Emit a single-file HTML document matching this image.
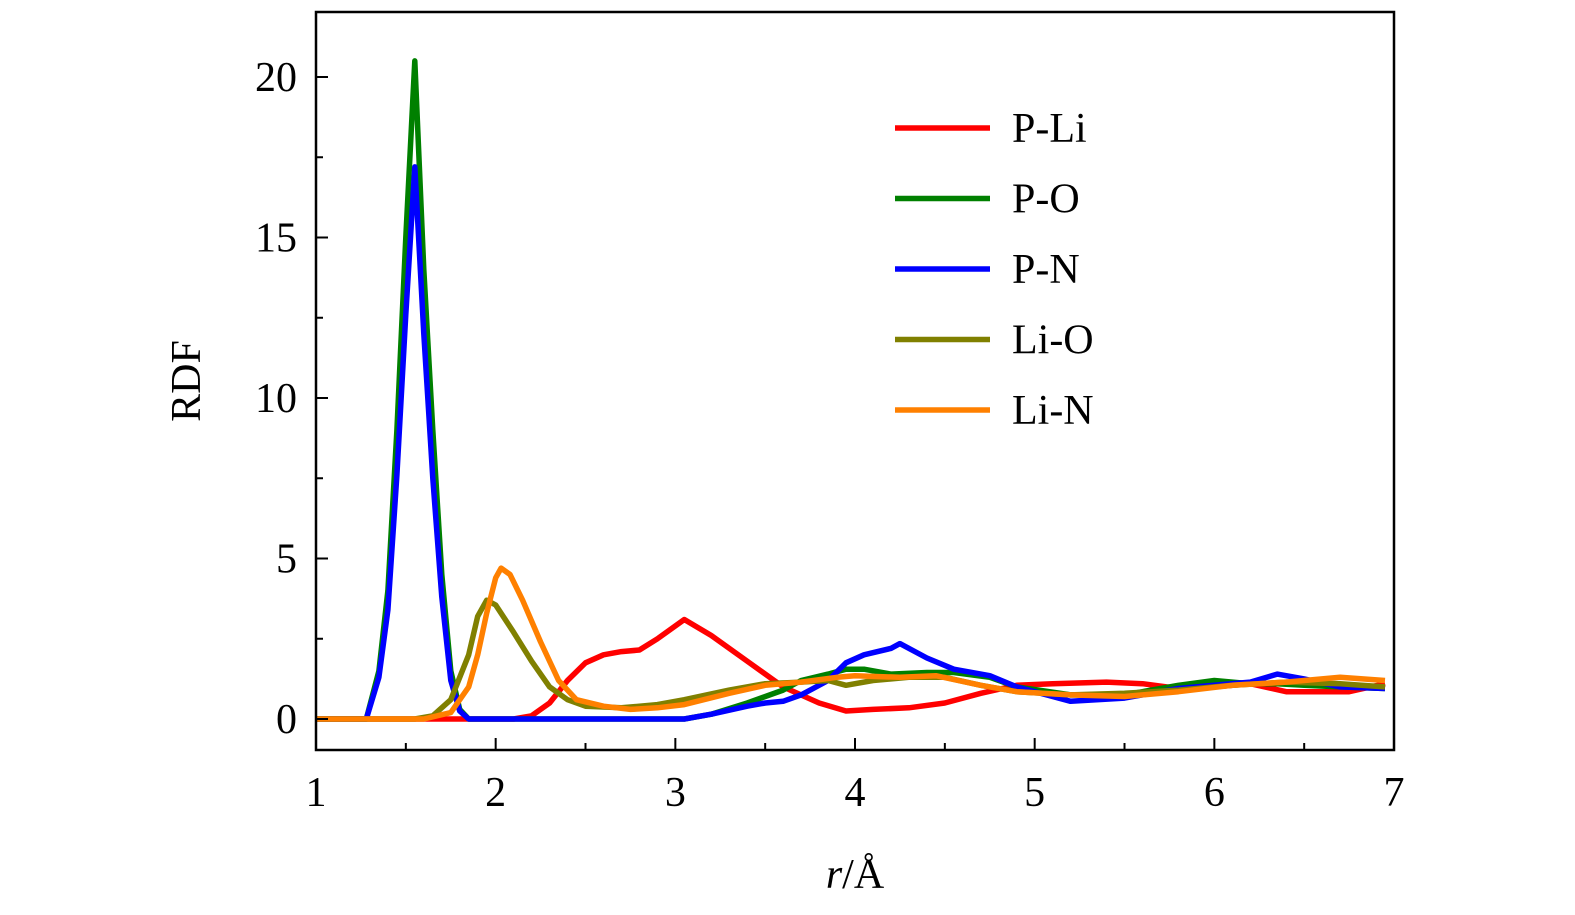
<!DOCTYPE html>
<html><head><meta charset="utf-8"><style>
html,body{margin:0;padding:0;background:#fff;overflow:hidden;width:1575px;height:915px;}
svg{display:block;}
svg text{font-family:"Liberation Serif",serif;fill:#000;}
</style></head><body>
<svg width="1575" height="915" viewBox="0 0 1575 915">
<g id="plot"></g>
<rect x="316" y="12" width="1078" height="738" fill="none" stroke="#000" stroke-width="2.5"/>
<g id="ticks"></g>
<text x="200" y="381" font-size="42" text-anchor="middle" transform="rotate(-90 200 381)">RDF</text>
<text x="855" y="888" font-size="42" text-anchor="middle"><tspan font-style="italic">r</tspan>/Å</text>
<g id="legend"></g>
</svg>
<script>
const xTicks=[1,2,3,4,5,6,7];
const yTicks=[0,5,10,15,20];
const seriesNames=["P-Li","P-O","P-N","Li-O","Li-N"];
const seriesColors=["#ff0000","#008000","#0000ff","#808000","#ff8000"];
const pLiR=[1,2.1,2.2,2.3,2.4,2.5,2.6,2.7,2.8,2.9,3.05,3.2,3.4,3.6,3.8,3.95,4.1,4.3,4.5,4.7,4.9,5.1,5.4,5.6,5.8,6.0,6.2,6.4,6.6,6.75,6.95];
const pLiV=[0,0,0.1,0.5,1.2,1.75,2.0,2.1,2.15,2.5,3.1,2.6,1.8,1.0,0.5,0.25,0.3,0.35,0.5,0.8,1.05,1.1,1.15,1.1,0.95,1.0,1.1,0.85,0.85,0.85,1.1];
const pOR=[1,1.28,1.35,1.4,1.45,1.5,1.55,1.6,1.65,1.7,1.75,1.8,1.85,3.05,3.2,3.4,3.6,3.7,3.85,3.95,4.05,4.2,4.4,4.55,4.75,4.9,5.2,5.5,5.8,6.0,6.2,6.35,6.5,6.7,6.95];
const pOV=[0,0,1.5,4,9,15,20.5,14,9,4.5,1.5,0.3,0,0,0.15,0.5,0.9,1.2,1.4,1.55,1.55,1.4,1.45,1.45,1.3,1.0,0.75,0.75,1.05,1.2,1.1,1.1,1.05,1.0,0.95];
const pNR=[1,1.28,1.35,1.4,1.45,1.5,1.55,1.6,1.65,1.7,1.75,1.8,1.85,3.05,3.2,3.4,3.5,3.6,3.7,3.85,3.95,4.05,4.2,4.25,4.4,4.55,4.75,4.9,5.2,5.5,5.8,6.0,6.2,6.35,6.5,6.7,6.95];
const pNV=[0,0,1.3,3.4,7.6,12.6,17.2,12,7.5,3.8,1.2,0.25,0,0,0.15,0.4,0.5,0.55,0.75,1.2,1.75,2.0,2.2,2.35,1.9,1.55,1.35,1.0,0.55,0.65,0.95,1.05,1.15,1.4,1.25,1.0,0.95];
const liOR=[1,1.55,1.65,1.75,1.85,1.9,1.95,2.0,2.1,2.2,2.3,2.4,2.5,2.7,2.9,3.05,3.3,3.5,3.7,3.85,3.95,4.1,4.3,4.5,4.7,4.9,5.2,5.5,5.8,6.1,6.4,6.7,6.95];
const liOV=[0,0,0.1,0.6,2.0,3.2,3.7,3.55,2.7,1.8,1.0,0.6,0.4,0.35,0.45,0.6,0.9,1.1,1.15,1.2,1.05,1.2,1.3,1.3,1.05,0.85,0.75,0.8,0.9,1.05,1.15,1.1,1.0];
const liNR=[1,1.6,1.75,1.85,1.9,1.95,2.0,2.03,2.08,2.15,2.25,2.35,2.45,2.6,2.75,2.9,3.05,3.3,3.5,3.7,3.9,4.0,4.25,4.45,4.7,4.9,5.2,5.5,5.8,6.1,6.4,6.7,6.95];
const liNV=[0,0,0.2,1.0,2.0,3.3,4.4,4.7,4.5,3.7,2.4,1.2,0.6,0.4,0.3,0.35,0.45,0.8,1.05,1.15,1.3,1.35,1.3,1.35,1.05,0.85,0.75,0.7,0.85,1.05,1.15,1.3,1.2];
const seriesR=[pLiR,pOR,pNR,liOR,liNR];
const seriesV=[pLiV,pOV,pNV,liOV,liNV];
const NS="http://www.w3.org/2000/svg";
const sx=r=>316+(r-1)*179.67;
const sy=v=>719-v*32.1;
const plot=document.getElementById('plot');
[0,1,2,3,4].forEach(i=>{
  const p=document.createElementNS(NS,'polyline');
  p.setAttribute('points',seriesR[i].map((r,k)=>sx(r).toFixed(1)+','+sy(seriesV[i][k]).toFixed(1)).join(' '));
  p.setAttribute('fill','none');p.setAttribute('stroke',seriesColors[i]);
  p.setAttribute('stroke-width','5.5');p.setAttribute('stroke-linejoin','round');
  
  
  plot.appendChild(p);
});
const tk=document.getElementById('ticks');
function line(x1,y1,x2,y2){const l=document.createElementNS(NS,'line');l.setAttribute('x1',x1);l.setAttribute('y1',y1);l.setAttribute('x2',x2);l.setAttribute('y2',y2);l.setAttribute('stroke','#000');l.setAttribute('stroke-width','2');


tk.appendChild(l);}
xTicks.forEach(t=>{
  line(sx(t),750,sx(t),738);
  if(t<7) line(sx(t+0.5),750,sx(t+0.5),743);
  const tx=document.createElementNS(NS,'text');tx.setAttribute('x',sx(t));tx.setAttribute('y',806);tx.setAttribute('font-size','42');tx.setAttribute('text-anchor','middle');tx.textContent=t;
  
  
  tk.appendChild(tx);
});
yTicks.forEach(t=>{
  line(316,sy(t),328,sy(t));
  if(t<20) line(316,sy(t+2.5),323,sy(t+2.5));
  const tx=document.createElementNS(NS,'text');tx.setAttribute('x',297);tx.setAttribute('y',sy(t)+14);tx.setAttribute('font-size','42');tx.setAttribute('text-anchor','end');tx.textContent=t;
  
  
  tk.appendChild(tx);
});
const lg=document.getElementById('legend');
seriesNames.forEach((n,i)=>{
  const y=128+i*70.5;
  const g=document.createElementNS(NS,'g');
  
  
  const l=document.createElementNS(NS,'line');l.setAttribute('x1',895);l.setAttribute('x2',990);l.setAttribute('y1',y);l.setAttribute('y2',y);l.setAttribute('stroke',seriesColors[i]);l.setAttribute('stroke-width','5.5');
  g.appendChild(l);
  const t=document.createElementNS(NS,'text');t.setAttribute('x',1012);t.setAttribute('y',y+14);t.setAttribute('font-size','42');t.textContent=n;
  g.appendChild(t);
  lg.appendChild(g);
});
</script>
</body></html>
